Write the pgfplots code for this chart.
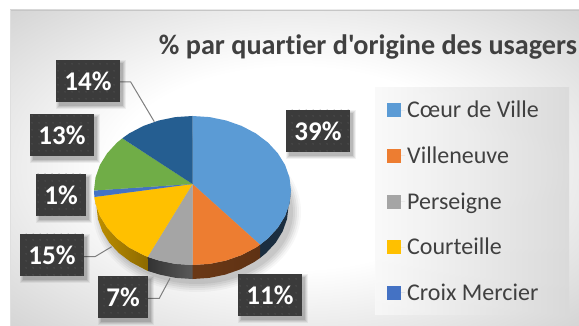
\documentclass[border=0pt]{standalone}
\usepackage{fontspec}
\setmainfont{Carlito}
\newfontfamily\plainf{Carlito}[Ligatures=NoCommon]
\usepackage{pgfplots}
\pgfplotsset{compat=1.18}
\usetikzlibrary{patterns.meta}
\definecolor{cblue}{HTML}{5B9BD5}
\definecolor{corange}{HTML}{ED7D31}
\definecolor{cgray}{HTML}{A5A5A5}
\definecolor{cyellow}{HTML}{FFC000}
\definecolor{ccroix}{HTML}{4472C4}
\definecolor{cgreen}{HTML}{70AD47}
\definecolor{cnavy}{HTML}{255E91}
\definecolor{boxc}{HTML}{3B3B3B}
\definecolor{dotc}{HTML}{626262}
\definecolor{txtc}{HTML}{404040}
\definecolor{leadc}{HTML}{7F7F7F}
\pgfdeclareradialshading{chartbg}{\pgfpoint{0bp}{0bp}}{color(0bp)=(white); color(16bp)=(white); color(50bp)=(gray!58!white); color(71bp)=(gray!85!white)}
\newcommand{\lab}[5]{% x0 y0 x1 y1 text
  \fill[black,opacity=0.05] (axis cs:#1,#2) rectangle (axis cs:#3+6,#4+7);
  \fill[black,opacity=0.07] (axis cs:#1+1,#2+1) rectangle (axis cs:#3+5,#4+6);
  \fill[black,opacity=0.08] (axis cs:#1+2,#2+2) rectangle (axis cs:#3+4,#4+5);
  \fill[black,opacity=0.10] (axis cs:#1+3,#2+3) rectangle (axis cs:#3+3,#4+4);
  \fill[boxc] (axis cs:#1,#2) rectangle (axis cs:#3,#4);
  \fill[pattern={Dots[distance=6.5pt,radius=0.6pt]},pattern color=dotc] (axis cs:#1,#2) rectangle (axis cs:#3,#4);
  \node[text=white,font=\fontsize{27}{27}\selectfont\bfseries,inner sep=0pt,anchor=center] at (axis cs:{(#1+#3)/2},{(#2+#4)/2}) {#5};
}
\begin{document}
\begin{tikzpicture}
\begin{axis}[
  scale only axis, width=579pt, height=326pt,
  xmin=0, xmax=579, ymin=0, ymax=326, y dir=reverse,
  hide axis, clip=false,
  legend style={at={(axis cs:387,89)},anchor=north west,draw=none,fill=none,
    font=\plainf\fontsize{24}{24}\selectfont,text=txtc,row sep=23.5pt,inner xsep=0pt,inner ysep=10pt,
    /tikz/every even column/.append style={column sep=5pt}},
  legend cell align=left,
  area legend,
  legend image code/.code={\path (0pt,0pt) -- (18pt,0pt);\fill[#1] (0pt,-7pt) rectangle (14pt,7pt);},
]
% chart background
\path[shading=chartbg] (axis cs:10,10) rectangle (axis cs:579,326);
\draw[color=gray!45!white,line width=1.5pt] (axis cs:10,10.7) -- (axis cs:579,10.7);
\draw[color=gray!25!white,line width=1pt] (axis cs:10.5,10) -- (axis cs:10.5,326);
% legend panel
\path[left color=white!95!gray,right color=gray!30!white,opacity=0.85] (axis cs:375,88) rectangle (axis cs:569,314);
% pie shadow
\fill[black,opacity=0.03] (axis cs:197,212) ellipse [x radius=104, y radius=80];
\fill[black,opacity=0.04] (axis cs:197,212) ellipse [x radius=102, y radius=78];
\fill[black,opacity=0.05] (axis cs:197,212) ellipse [x radius=100, y radius=76];
\fill[black,opacity=0.05] (axis cs:197,212) ellipse [x radius=98, y radius=74];
\fill[black,opacity=0.06] (axis cs:197,212) ellipse [x radius=96, y radius=72];
% side walls
\addplot[forget plot,draw=none,fill=black!70!cblue] coordinates {(291,190.5)(289.5,203.4)(285.1,216)(277.8,227.75)(268,238.4)(260,244.7)(260,258)(266,253.1)(275.6,242.8)(282.7,231.3)(287,219.1)(288.5,206.5)} --cycle;
\addplot[forget plot,draw=none,shade,left color=black!55!corange,right color=black!60!corange] coordinates {(260,244.7)(255.8,247.6)(241.75,255)(226.2,260.5)(209.6,263.9)(192.5,265)(192.5,279)(209.2,277.9)(225.3,274.6)(240.5,269.3)(254.2,262)(260,258)} --cycle;
\addplot[forget plot,draw=none,shade,left color=black!80!white,right color=black!65!white] coordinates {(192.5,265)(175.4,263.9)(158.8,260.5)(147.7,256.9)(148,271)(159.7,274.6)(175.8,277.9)(192.5,279)} --cycle;
\addplot[forget plot,draw=none,shade,left color=black!25!cyellow,right color=black!45!cyellow] coordinates {(147.7,256.9)(143.25,255)(129.2,247.6)(117,238.4)(107.2,227.75)(99.9,216)(95.5,203.4)(94.4,197)(96.5,206.5)(98,219.1)(102.3,231.3)(109.4,242.8)(119,253.1)(130.8,262)(144.5,269.3)(148,271)} --cycle;
% leader lines
\addplot[forget plot,leadc,line width=1pt] coordinates {(120,82)(130.7,82)(154.3,121.7)};
\addplot[forget plot,leadc,line width=1pt] coordinates {(84,256.7)(95,256.7)(111.7,246.7)};
\addplot[forget plot,leadc,line width=1pt] coordinates {(148,298.3)(159.3,298.3)(170,278.3)};
% slices
\addplot[draw=none,fill=cblue] coordinates {(192.5,184)(192.5,116)(209.6,117.1)(226.2,120.5)(241.75,126)(255.8,133.4)(268,142.6)(277.8,153.25)(285.1,165)(289.5,177.6)(291,190.5)(289.5,203.4)(285.1,216)(277.8,227.75)(268,238.4)(260,244.7)} --cycle;
\addlegendentry{Cœur de Ville}
\addplot[draw=none,fill=corange] coordinates {(192.5,184)(260,244.7)(255.8,247.6)(241.75,255)(226.2,260.5)(209.6,263.9)(192.5,265)} --cycle;
\addlegendentry{Villeneuve}
\addplot[draw=none,fill=cgray] coordinates {(192.5,184)(192.5,265)(175.4,263.9)(158.8,260.5)(147.7,256.9)} --cycle;
\addlegendentry{Perseigne}
\addplot[draw=none,fill=cyellow] coordinates {(192.5,184)(147.7,256.9)(143.25,255)(129.2,247.6)(117,238.4)(107.2,227.75)(99.9,216)(95.5,203.4)(94.4,197)} --cycle;
\addlegendentry{Courteille}
\addplot[draw=none,fill=ccroix] coordinates {(192.5,184)(94.4,197)(94,190.5)} --cycle;
\addlegendentry{Croix Mercier}
\addplot[forget plot,draw=none,fill=cgreen] coordinates {(192.5,184)(94,190.5)(95.5,177.6)(99.9,165)(107.2,153.25)(117,142.6)(122.3,138.3)} --cycle;
\addplot[forget plot,draw=none,fill=cnavy] coordinates {(192.5,184)(122.3,138.3)(129.2,133.4)(143.25,126)(158.8,120.5)(175.4,117.1)(192.5,116)} --cycle;
% title
\node[text=txtc,font=\plainf\fontsize{28.2}{28.2}\selectfont\bfseries,inner sep=0pt,anchor=center] at (axis cs:368,47) {\% par quartier d'origine des usagers};
% labels
\lab{56}{60}{120}{102}{14\%}
\lab{30}{114}{94}{156}{13\%}
\lab{36}{174}{86}{216}{1\%}
\lab{20}{234}{84}{276}{15\%}
\lab{98}{276}{148}{318}{7\%}
\lab{238}{274}{302}{316}{11\%}
\lab{286}{110}{350}{152}{39\%}
\end{axis}
\pgfresetboundingbox
\useasboundingbox (0,0) rectangle (579pt,326pt);
\end{tikzpicture}
\end{document}
